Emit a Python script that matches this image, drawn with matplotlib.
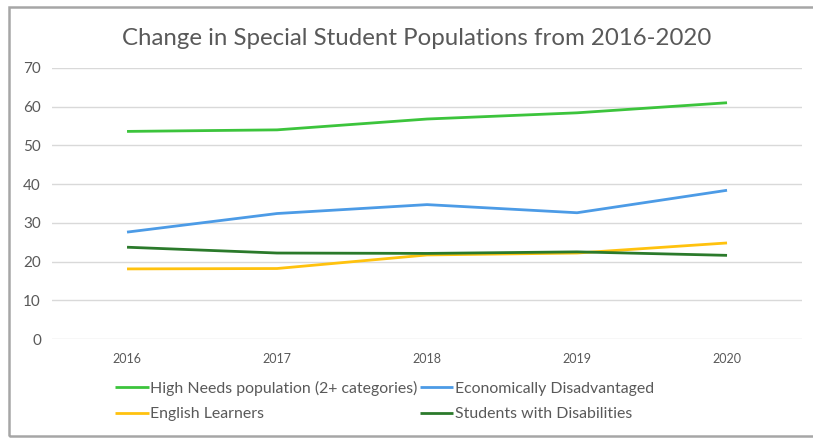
import matplotlib.pyplot as plt
from matplotlib.patches import Rectangle

years = ["2016", "2017", "2018", "2019", "2020"]
high_needs = [53.6, 54.0, 56.8, 58.4, 61.0]
econ_disadvantaged = [27.6, 32.4, 34.7, 32.6, 38.4]
english_learners = [18.1, 18.2, 21.7, 22.2, 24.8]
disabilities = [23.7, 22.2, 22.1, 22.5, 21.6]

series = [
    ("High Needs population (2+ categories)", high_needs, "#3cc43c"),
    ("Economically Disadvantaged", econ_disadvantaged, "#4c9be6"),
    ("English Learners", english_learners, "#ffc20e"),
    ("Students with Disabilities", disabilities, "#2b7a2b"),
]

plt.rcParams["font.family"] = ["Lato", "DejaVu Sans"]
text_grey = "#595959"

fig = plt.figure(figsize=(8.13, 4.38), dpi=100)
ax = fig.add_axes([0.064, 0.226, 0.9225, 0.619])

x = range(len(years))
lines = []
for label, values, color in series:
    (line,) = ax.plot(x, values, color=color, linewidth=2.0, label=label,
                      solid_capstyle="butt")
    lines.append(line)

ax.set_xlim(-0.5, 4.5)
ax.set_ylim(0, 70)
ax.set_yticks(range(0, 71, 10))
ax.set_xticks(list(x))
ax.set_xticklabels(years)
ax.grid(axis="y", color="#d9d9d9", linewidth=1.0)
ax.set_axisbelow(True)
for side in ("left", "right", "top", "bottom"):
    ax.spines[side].set_visible(False)
ax.tick_params(axis="both", length=0, colors=text_grey)
ax.tick_params(axis="y", labelsize=11, pad=8)
ax.tick_params(axis="x", labelsize=9, pad=10)

fig.text(0.512, 0.911, "Change in Special Student Populations from 2016-2020",
         ha="center", va="center", fontsize=17.3, color=text_grey)

# matplotlib fills legend columns top-down, so reorder to read across rows
order = [0, 2, 1, 3]
fig.legend([lines[i] for i in order], [lines[i].get_label() for i in order],
           loc="upper left", bbox_to_anchor=(0.134, 0.145), ncol=2,
           frameon=False, fontsize=11.4, handlelength=2.1, handletextpad=0.1,
           columnspacing=0.15, labelspacing=0.7, borderaxespad=0,
           labelcolor=text_grey)

# outer chart frame
fig.patches.append(Rectangle((9 / 813, 2 / 438), 1.1, 429 / 438,
                             transform=fig.transFigure, fill=False,
                             edgecolor="#a6a6a6", linewidth=1.8))

fig.savefig("out.png", dpi=100)
